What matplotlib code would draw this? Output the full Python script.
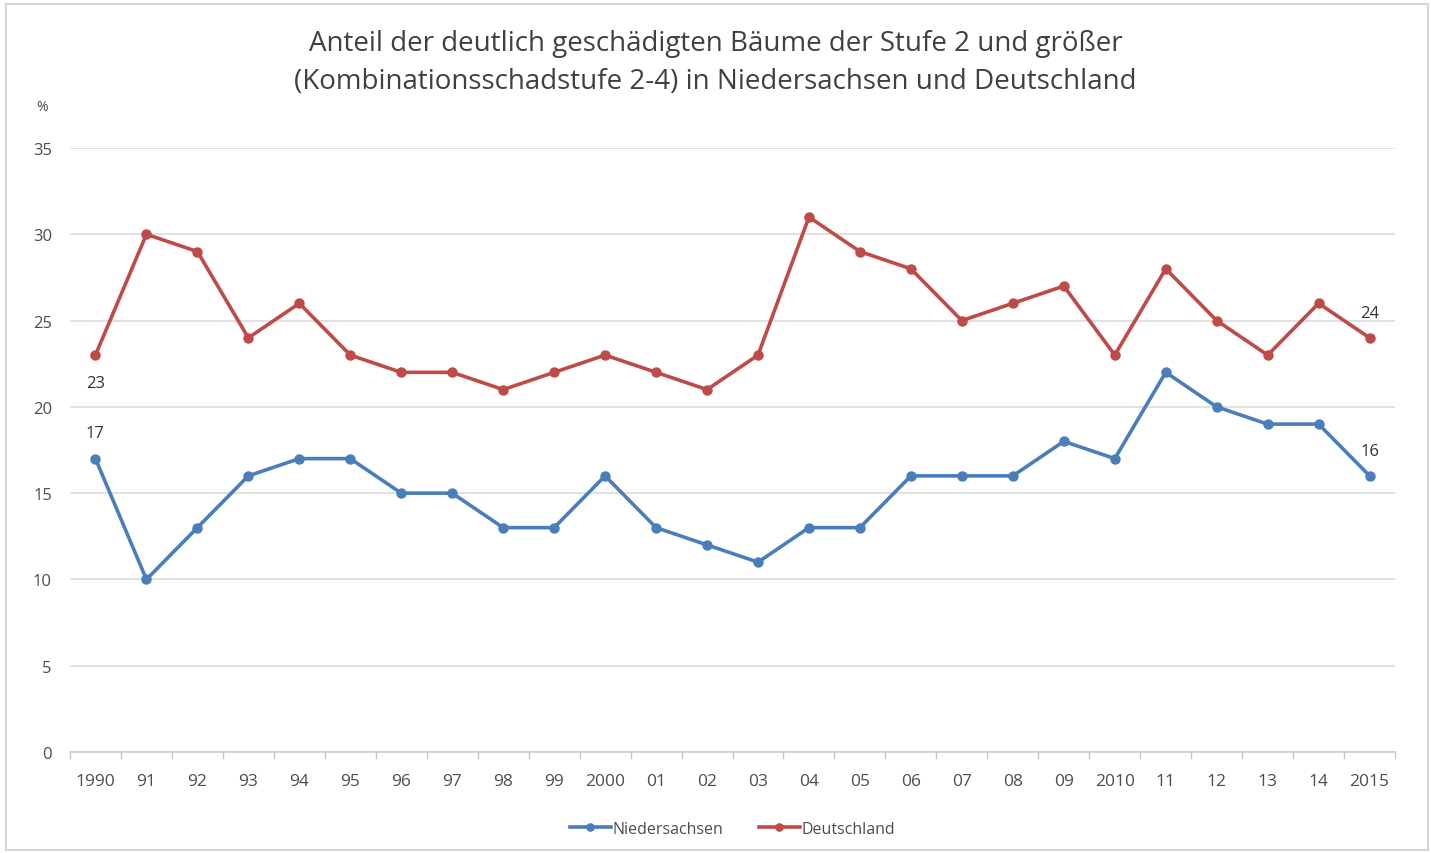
import matplotlib.pyplot as plt
from matplotlib.patches import Rectangle

plt.rcParams['font.family'] = ['Open Sans', 'DejaVu Sans']

years = list(range(1990, 2016))
tick_labels = ['1990', '91', '92', '93', '94', '95', '96', '97', '98', '99',
               '2000', '01', '02', '03', '04', '05', '06', '07', '08', '09',
               '2010', '11', '12', '13', '14', '2015']
niedersachsen = [17, 10, 13, 16, 17, 17, 15, 15, 13, 13, 16, 13, 12, 11, 13,
                 13, 16, 16, 16, 18, 17, 22, 20, 19, 19, 16]
deutschland = [23, 30, 29, 24, 26, 23, 22, 22, 21, 22, 23, 22, 21, 23, 31,
               29, 28, 25, 26, 27, 23, 28, 25, 23, 26, 24]

blue = '#4a7ebb'
red = '#be4b48'
text_gray = '#4d4d4d'

fig = plt.figure(figsize=(14.31, 8.54), dpi=100)
fig.patch.set_facecolor('white')
fig.add_artist(Rectangle((0.004, 0.004), 0.994, 0.99, transform=fig.transFigure,
                         fill=False, edgecolor='#d0d0d0', linewidth=1.2))

ax = fig.add_axes([0.0489, 0.1183, 0.926, 0.7072])
x = list(range(len(years)))

ax.plot(x, niedersachsen, color=blue, linewidth=2.6, marker='o', markersize=6.5,
        label='Niedersachsen', zorder=3)
ax.plot(x, deutschland, color=red, linewidth=2.6, marker='o', markersize=6.5,
        label='Deutschland', zorder=3)

ax.set_xlim(-0.5, len(years) - 0.5)
ax.set_ylim(0, 35)
ax.set_yticks(range(0, 36, 5))
ax.set_xticks(x)
ax.set_xticklabels(tick_labels)
ax.set_xticks([i - 0.5 for i in range(len(years) + 1)], minor=True)

ax.grid(axis='y', color='#d9d9d9', linewidth=1.1)
ax.set_axisbelow(True)
for s in ['top', 'right', 'left']:
    ax.spines[s].set_visible(False)
ax.spines['bottom'].set_color('#c8c8c8')
ax.spines['bottom'].set_linewidth(1.1)

ax.tick_params(axis='y', length=0, pad=13, labelsize=12, labelcolor=text_gray)
ax.tick_params(axis='x', which='major', length=0, pad=15, labelsize=12.5,
               labelcolor=text_gray)
ax.tick_params(axis='x', which='minor', length=5, color='#c8c8c8', width=1)

# value labels at the ends of both series
label_kw = dict(textcoords='offset points', ha='center', va='center',
                fontsize=12, color='#333333')
ax.annotate(str(deutschland[0]), (x[0], deutschland[0]), xytext=(0, -20), **label_kw)
ax.annotate(str(niedersachsen[0]), (x[0], niedersachsen[0]), xytext=(0, 18.5), **label_kw)
ax.annotate(str(deutschland[-1]), (x[-1], deutschland[-1]), xytext=(0, 18), **label_kw)
ax.annotate(str(niedersachsen[-1]), (x[-1], niedersachsen[-1]), xytext=(0, 18), **label_kw)

ax.text(-0.021, 1.068, '%', transform=ax.transAxes, ha='center', va='center',
        fontsize=10, color=text_gray)

fig.text(0.5, 0.9265, 'Anteil der deutlich geschädigten Bäume der Stufe 2 und größer\n'
         '(Kombinationsschadstufe 2-4) in Niedersachsen und Deutschland',
         ha='center', va='center', fontsize=20, color='#404040', linespacing=1.48)

ax.legend(loc='center', bbox_to_anchor=(0.5, -0.127), ncol=2, frameon=False,
          fontsize=11.5, labelcolor=text_gray, handlelength=2.6, handletextpad=0.1,
          columnspacing=2.2, markerscale=0.8)

fig.savefig('out.png', dpi=100, facecolor='white')
